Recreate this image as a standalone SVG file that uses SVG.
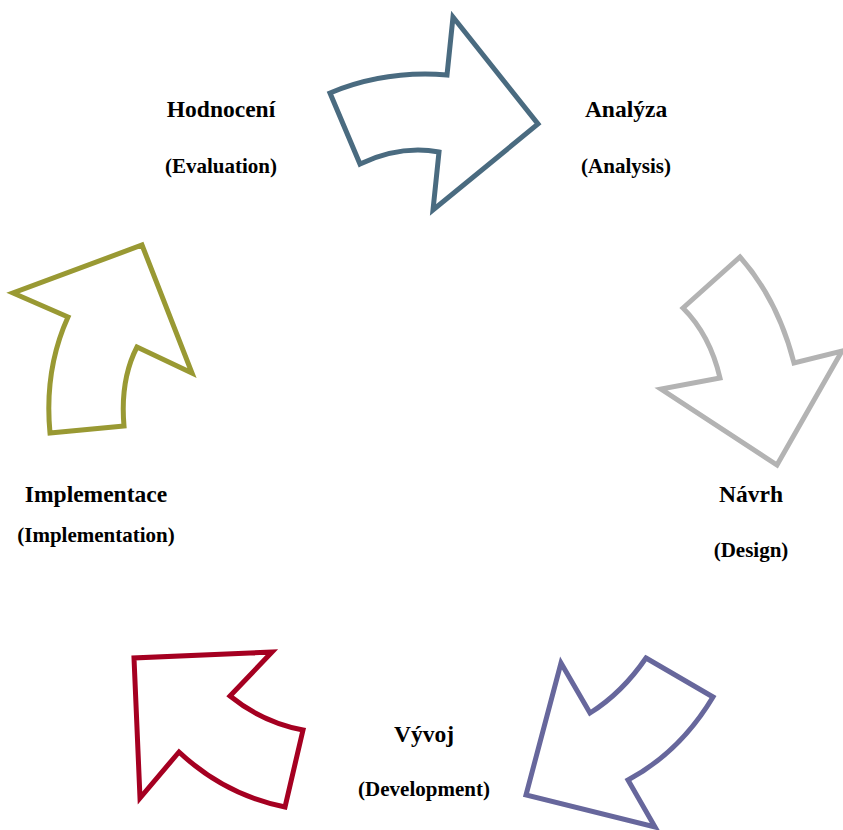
<svg xmlns="http://www.w3.org/2000/svg" width="843" height="830" viewBox="0 0 843 830">
  <style>
    .arrow { fill: #ffffff; stroke-width: 5; stroke-linejoin: miter; stroke-miterlimit: 10; }
    .t1 { font-family: "Liberation Serif", "Times New Roman", serif; font-weight: bold; font-size: 23.5px; fill: #000; text-anchor: middle; }
    .t2 { font-family: "Liberation Serif", "Times New Roman", serif; font-weight: bold; font-size: 21px; fill: #000; text-anchor: middle; }
  </style>
  <rect width="843" height="830" fill="#ffffff"/>

  <!-- cycle arrows -->
  <g id="connectors">
    <path id="arrow-analysis" class="arrow" stroke="#4a6b80"
          d="M330,93 Q385,70 447,75 L453,17 L538,124 L433,210 L439,152 Q400,145 360,164 Z"/>
    <path id="arrow-design" class="arrow" stroke="#b3b3b3"
          d="M740,257 Q778,300 794,363 L842,351 L777,465 L661,389 L720,378 Q710,335 683,308 Z"/>
    <path id="arrow-development" class="arrow" stroke="#67679c"
          d="M646,658 L713,697 Q680,752 628,780 L655,827 L526,795 L561,663 L590,713 Q622,693 646,658 Z"/>
    <path id="arrow-implementation" class="arrow" stroke="#a50021"
          d="M303,730 L285,807 Q225,795 179,752 L140,798 L134,658 L272,652 L230,696 Q262,722 303,730 Z"/>
    <path id="arrow-evaluation" class="arrow" stroke="#999933"
          d="M50,433 Q44,370 68,317 L13,293 L142,245 L192,373 L137,347 Q120,380 124,426 Z"/>
  </g>

  <g id="node-analyza">
    <text class="t1" x="626" y="117">Analýza</text>
    <text class="t2" x="626" y="173">(Analysis)</text>
  </g>
  <g id="node-navrh">
    <text class="t1" x="751" y="502">Návrh</text>
    <text class="t2" x="751" y="557">(Design)</text>
  </g>
  <g id="node-vyvoj">
    <text class="t1" x="424" y="742">Vývoj</text>
    <text class="t2" x="424" y="796">(Development)</text>
  </g>
  <g id="node-implementace">
    <text class="t1" x="96" y="502">Implementace</text>
    <text class="t2" x="96" y="542">(Implementation)</text>
  </g>
  <g id="node-hodnoceni">
    <text class="t1" x="221" y="117">Hodnocení</text>
    <text class="t2" x="221" y="173">(Evaluation)</text>
  </g>
</svg>
